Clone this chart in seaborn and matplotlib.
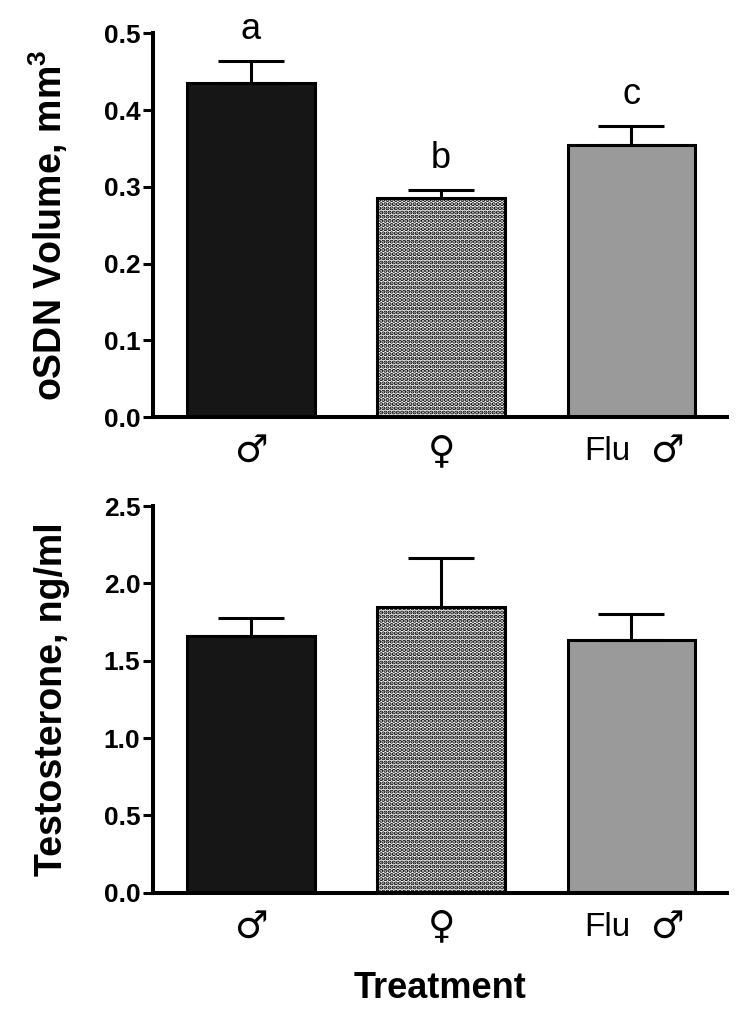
import matplotlib
matplotlib.use("Agg")
import matplotlib.pyplot as plt
import numpy as np
import seaborn as sns

treatments = ["♂", "♀", "Flu ♂"]
bar_colors = ["#161616", "#ffffff", "#9a9a9a"]

osdn_mean = [0.435, 0.285, 0.355]
osdn_sem = [0.029, 0.011, 0.024]
osdn_letters = ["a", "b", "c"]

testo_mean = [1.66, 1.845, 1.635]
testo_sem = [0.116, 0.32, 0.165]

sns.set_style("ticks")
plt.rcParams["font.family"] = ["Liberation Sans", "DejaVu Sans"]
plt.rcParams["hatch.linewidth"] = 2.1
plt.rcParams["hatch.color"] = "black"
for key in ("text.color", "axes.labelcolor", "xtick.color", "ytick.color", "axes.edgecolor"):
    plt.rcParams[key] = "black"

fig = plt.figure(figsize=(7.53, 10.10), dpi=100)
ax_top = fig.add_axes([0.203, 0.587, 0.762, 0.380])
ax_bot = fig.add_axes([0.203, 0.116, 0.762, 0.383])


def draw_panel(ax, means, sems, ymax, step, ylabel):
    sns.barplot(x=treatments, y=means, hue=treatments, palette=bar_colors,
                legend=False, errorbar=None, width=0.67, saturation=1,
                edgecolor="black", linewidth=2.2, ax=ax)
    ax.patches[1].set_hatch("....")
    ax.patches[1].set_facecolor("white")
    x = np.arange(len(means))
    ax.errorbar(x, means, yerr=[np.zeros(len(means)), sems], fmt="none",
                ecolor="black", elinewidth=2.2, capsize=24, capthick=2.2, zorder=1)
    ax.set_xlim(-0.515, 2.5)
    ax.set_ylim(0, ymax)
    ax.set_yticks(np.arange(0, ymax + step / 2, step))
    ax.yaxis.set_major_formatter(matplotlib.ticker.FormatStrFormatter("%.1f"))
    ax.tick_params(axis="y", length=7, width=2.2, labelsize=19, pad=2)
    ax.tick_params(axis="x", length=0, labelbottom=False)
    for lab in ax.get_yticklabels():
        lab.set_fontweight("bold")
    ax.set_ylabel(ylabel, fontsize=27, fontweight="bold", labelpad=24)
    sns.despine(ax=ax)
    for side in ("left", "bottom"):
        ax.spines[side].set_linewidth(2.9)

    # category labels: sex symbols drawn larger than the text
    sym_kw = dict(xycoords=("data", "axes fraction"), textcoords="offset points",
                  va="center", family=["DejaVu Sans"], fontsize=27)
    ax.annotate(treatments[0], xy=(0, 0), xytext=(0, -25), ha="center", **sym_kw)
    ax.annotate(treatments[1], xy=(1, 0), xytext=(0, -25), ha="center", **sym_kw)
    prefix, sym = treatments[2].split(" ")
    ax.annotate(prefix, xy=(2, 0), xycoords=("data", "axes fraction"),
                xytext=(-1, -25), textcoords="offset points",
                ha="right", va="center", fontsize=24)
    ax.annotate(sym, xy=(2, 0), xytext=(13, -25), ha="left", **sym_kw)


draw_panel(ax_top, osdn_mean, osdn_sem, 0.5, 0.1, "oSDN Volume, mm$^{\\mathregular{3}}$")
draw_panel(ax_bot, testo_mean, testo_sem, 2.5, 0.5, "Testosterone, ng/ml")

for i, letter in enumerate(osdn_letters):
    ax_top.text(i, osdn_mean[i] + osdn_sem[i] + 0.018, letter,
                ha="center", va="bottom", fontsize=26)

ax_bot.set_xlabel("Treatment", fontsize=26, fontweight="bold", labelpad=56)

fig.savefig("out.png", dpi=100)
